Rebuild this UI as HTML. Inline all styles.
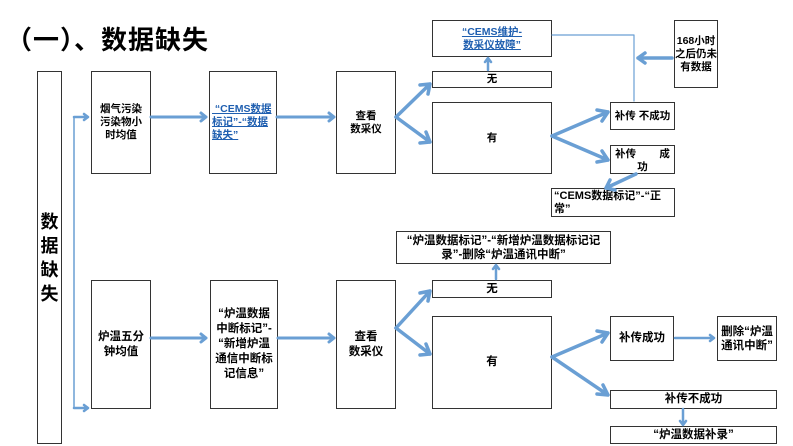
<!DOCTYPE html>
<html><head><meta charset="utf-8"><style>
body{margin:0;width:793px;height:446px;background:#fff;position:relative;overflow:hidden;font-family:"Liberation Sans","Noto Sans CJK SC",sans-serif;}
.b{position:absolute;border:1.5px solid #333;box-sizing:border-box;background:#fff;display:flex;align-items:center;justify-content:center;text-align:center;font-weight:bold;font-size:10.5px;line-height:13px;color:#000;}
.blue{color:#1f5fb0;text-decoration:underline;text-align:left;}
svg{position:absolute;left:0;top:0;}
</style></head><body>
<div style="position:absolute;left:6px;top:20px;font-size:26px;font-weight:bold;letter-spacing:1px;">（一）、数据缺失</div>

<div class="b" style="left:37px;top:71px;width:25px;height:373px;font-size:18px;line-height:24px;">数<br>据<br>缺<br>失</div>

<div class="b" style="left:91px;top:71px;width:60px;height:103px;padding:0 3px;">烟气污染污染物小时均值</div>
<div class="b blue" style="left:209px;top:71px;width:68px;height:103px;padding:0 2px;">&nbsp;“CEMS数据标记”-“数据缺失”</div>
<div class="b" style="left:336px;top:71px;width:60px;height:103px;">查看<br>数采仪</div>
<div class="b blue" style="left:432px;top:20px;width:120px;height:37px;text-align:center;">“CEMS维护-<br>数采仪故障”</div>
<div class="b" style="left:432px;top:71px;width:120px;height:17px;">无</div>
<div class="b" style="left:432px;top:102px;width:120px;height:72px;">有</div>
<div class="b" style="left:674px;top:20px;width:44px;height:68px;">168小时之后仍未有数据</div>
<div class="b" style="left:610px;top:102px;width:65px;height:28px;">补传 不成功</div>
<div class="b" style="left:610px;top:145px;width:65px;height:29px;display:block;padding-top:2px;">补传&nbsp;&nbsp;&nbsp;&nbsp;&nbsp;&nbsp;&nbsp;&nbsp;成<br>功</div>
<div class="b" style="left:551px;top:188px;width:124px;height:29px;text-align:left;justify-content:flex-start;padding:0 2px;font-size:11px;">“CEMS数据标记”-“正常”</div>

<div class="b" style="left:91px;top:280px;width:60px;height:129px;font-size:11.5px;line-height:15px;padding:0 4px;">炉温五分钟均值</div>
<div class="b" style="left:210px;top:280px;width:68px;height:129px;font-size:11.5px;line-height:15px;">“炉温数据<br>中断标记”-<br>“新增炉温<br>通信中断标<br>记信息”</div>
<div class="b" style="left:336px;top:280px;width:60px;height:129px;font-size:11.5px;line-height:15px;">查看<br>数采仪</div>
<div class="b" style="left:396px;top:231px;width:215px;height:33px;font-size:11.5px;line-height:14px;">“炉温数据标记”-“新增炉温数据标记记录”-删除“炉温通讯中断”</div>
<div class="b" style="left:432px;top:280px;width:120px;height:18px;font-size:11.5px;">无</div>
<div class="b" style="left:432px;top:316px;width:120px;height:93px;font-size:11.5px;">有</div>
<div class="b" style="left:610px;top:316px;width:64px;height:45px;font-size:11.5px;">补传成功</div>
<div class="b" style="left:717px;top:316px;width:60px;height:45px;font-size:11.5px;line-height:14px;">删除“炉温通讯中断”</div>
<div class="b" style="left:610px;top:390px;width:167px;height:19px;font-size:11.5px;">补传不成功</div>
<div class="b" style="left:610px;top:426px;width:167px;height:18px;font-size:11.5px;">“炉温数据补录”</div>

<svg width="793" height="446">
<g stroke="#6a9fd4" fill="none" stroke-linecap="round" stroke-linejoin="round">
<path d="M74 117 V408" stroke-width="1.5"/>
<g stroke-width="2.5">
<path d="M74 117 H88 M84 114 L88 117 L84 120"/>
<path d="M74 408 H88 M84 405 L88 408 L84 411"/>
</g>
<g stroke-width="3">
<path d="M151 117 H206 M201 113 L206 117 L201 121"/>
<path d="M277 117 H334 M329 113 L334 117 L329 121"/>
<path d="M151 338 H206 M201 334 L206 338 L201 342"/>
<path d="M278 338 H334 M329 334 L334 338 L329 342"/>
</g>
<g stroke-width="3.5">
<path d="M396 117 L430 84 M420 85 L430 84 L428 94"/>
<path d="M396 117 L430 142 M426 132 L430 142 L420 143"/>
<path d="M552 136 L608 112 M597 110 L608 112 L602 121"/>
<path d="M552 136 L608 160 M602 151 L608 160 L597 162"/>
<path d="M636 174 L606 188 M610 180 L606 188 L615 190"/>
<path d="M672 58 L638 58 M645 53 L638 58 L645 63"/>
<path d="M396 328 L430 291 M420 293 L430 291 L428 301"/>
<path d="M396 328 L430 354 M426 344 L430 354 L420 355"/>
<path d="M552 357 L608 333 M597 331 L608 333 L602 342"/>
<path d="M552 357 L608 395 M603 385 L608 395 L597 394"/>
</g>
<g stroke-width="2.5">
<path d="M488 70 V58 M485 62 L488 58 L491 62"/>
<path d="M496 279 V265 M493 269 L496 265 L499 269"/>
<path d="M675 338 H714 M710 335 L714 338 L710 341"/>
<path d="M683 409 V425 M680 421 L683 425 L686 421"/>
</g>
<path d="M552 35 H634 V101" stroke-width="1.2"/>
</g>
</svg>
</body></html>
